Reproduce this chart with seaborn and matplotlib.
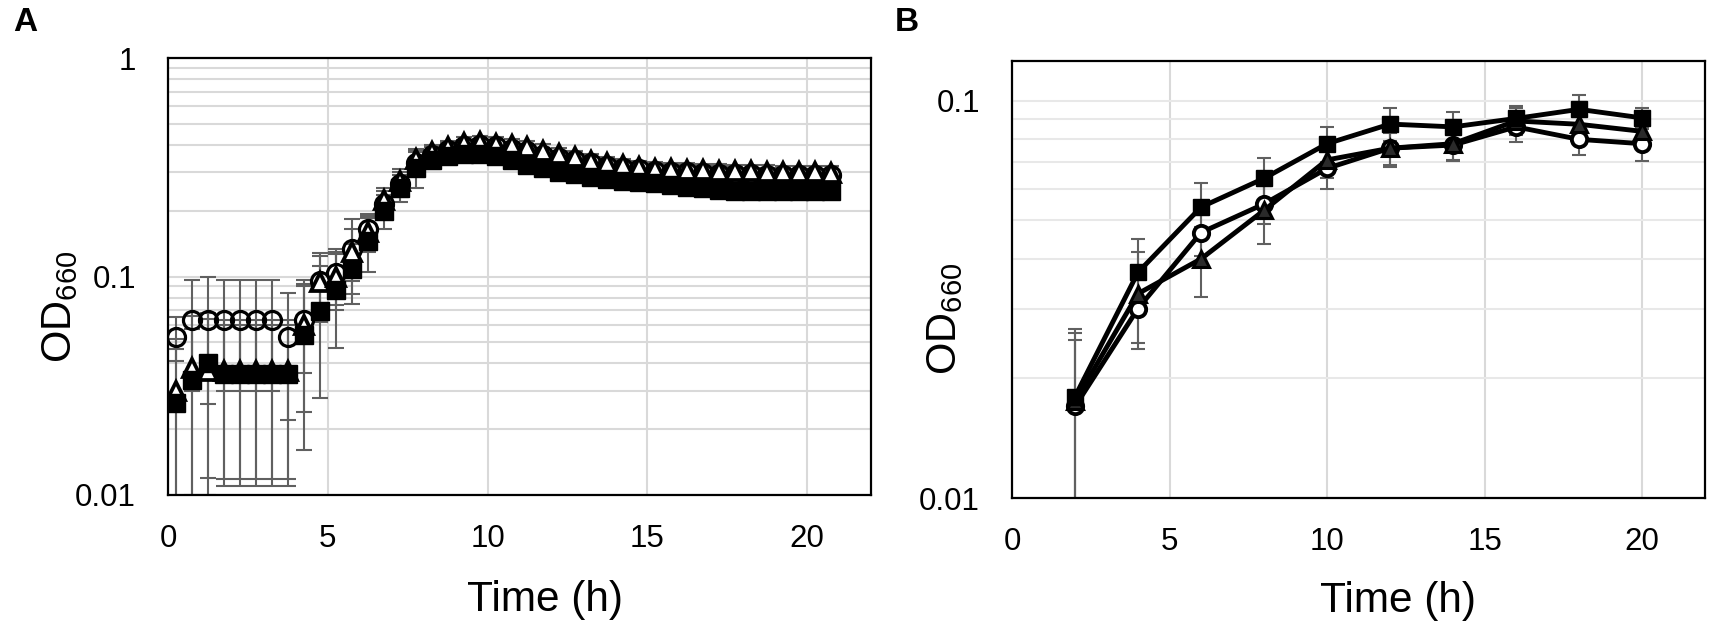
import matplotlib
matplotlib.use("Agg")
import matplotlib.pyplot as plt
import matplotlib.ticker as mticker
import seaborn as sns

# Panel A: time course, every 30 min
time_a = [0.25, 0.75, 1.25, 1.75, 2.25, 2.75, 3.25, 3.75, 4.25, 4.75, 5.25, 5.75,
          6.25, 6.75, 7.25, 7.75, 8.25, 8.75, 9.25, 9.75, 10.25, 10.75, 11.25, 11.75,
          12.25, 12.75, 13.25, 13.75, 14.25, 14.75, 15.25, 15.75, 16.25, 16.75, 17.25,
          17.75, 18.25, 18.75, 19.25, 19.75, 20.25, 20.75]
circ_a = [0.053, 0.063, 0.063, 0.063, 0.063, 0.063, 0.063, 0.053, 0.063,
          0.095, 0.104, 0.133, 0.165, 0.215, 0.265, 0.33, 0.36, 0.38, 0.395, 0.40,
          0.395, 0.385, 0.375, 0.36, 0.35, 0.34, 0.33, 0.322, 0.315, 0.31,
          0.305, 0.302, 0.30, 0.298, 0.296, 0.295, 0.293, 0.292, 0.291, 0.29,
          0.29, 0.29]
circ_sd_a = [0.012, 0.033, 0.037, 0.033, 0.033, 0.033, 0.033, 0.031, 0.027,
             0.033, 0.030, 0.050, 0.028, 0.030, 0.035, 0.040, 0.030, 0.028, 0.027,
             0.027, 0.027, 0.027, 0.026, 0.025, 0.025, 0.025, 0.024, 0.024, 0.024,
             0.023, 0.023, 0.023, 0.023, 0.023, 0.023, 0.022, 0.022, 0.022, 0.022,
             0.022, 0.022, 0.022]
tri_a = [0.030, 0.038, 0.037, 0.037, 0.037, 0.037, 0.037, 0.037, 0.060,
         0.094, 0.100, 0.130, 0.160, 0.225, 0.275, 0.345, 0.370, 0.390, 0.408,
         0.411, 0.406, 0.400, 0.393, 0.377, 0.364, 0.351, 0.339, 0.331, 0.324,
         0.316, 0.312, 0.310, 0.308, 0.306, 0.305, 0.304, 0.303, 0.302, 0.301,
         0.300, 0.300, 0.299]
tri_sd_a = [0.022, 0.028, 0.027, 0.026, 0.026, 0.026, 0.026, 0.026, 0.036,
            0.030, 0.030, 0.035, 0.030, 0.030, 0.035, 0.040, 0.030, 0.028, 0.027,
            0.027, 0.027, 0.026, 0.025, 0.025, 0.024, 0.024, 0.023, 0.023, 0.022,
            0.022, 0.022, 0.022, 0.022, 0.022, 0.021, 0.021, 0.021, 0.021, 0.021,
            0.021, 0.021, 0.021]
sq_a = [0.0265, 0.0335, 0.040, 0.0358, 0.0358, 0.0358, 0.0358, 0.0358, 0.054,
        0.0697, 0.087, 0.108, 0.145, 0.200, 0.255, 0.315, 0.340, 0.355, 0.365,
        0.365, 0.355, 0.340, 0.325, 0.313, 0.300, 0.293, 0.286, 0.280, 0.273,
        0.270, 0.267, 0.262, 0.257, 0.253, 0.249, 0.247, 0.245, 0.245, 0.245,
        0.245, 0.245, 0.245]
sq_sd_a = [0.020, 0.024, 0.028, 0.024, 0.024, 0.024, 0.024, 0.024, 0.038,
           0.042, 0.040, 0.033, 0.040, 0.035, 0.035, 0.060, 0.030, 0.025, 0.022,
           0.022, 0.022, 0.022, 0.022, 0.022, 0.022, 0.021, 0.021, 0.020, 0.020,
           0.020, 0.020, 0.019, 0.019, 0.019, 0.019, 0.018, 0.018, 0.018, 0.018,
           0.018, 0.018, 0.018]

# Panel B: sampled every 2 h
time_b = [2, 4, 6, 8, 10, 12, 14, 16, 18, 20]
sq_b = [0.0180, 0.037, 0.054, 0.0638, 0.078, 0.0874, 0.086, 0.0903, 0.0952, 0.0906]
sq_sd_b = [0.0086, 0.008, 0.008, 0.008, 0.008, 0.0083, 0.008, 0.007, 0.008, 0.0056]
circ_b = [0.0170, 0.030, 0.0466, 0.055, 0.0676, 0.076, 0.0774, 0.086, 0.080, 0.078]
circ_sd_b = [0.008, 0.0055, 0.006, 0.006, 0.0076, 0.0077, 0.007, 0.007, 0.007, 0.0074]
tri_b = [0.0175, 0.0327, 0.040, 0.053, 0.071, 0.076, 0.078, 0.089, 0.0873, 0.0838]
tri_sd_b = [0.0085, 0.009, 0.008, 0.0095, 0.007, 0.007, 0.007, 0.007, 0.007, 0.007]

sns.set_theme(style="white")
plt.rcParams['font.family'] = ['Liberation Sans', 'DejaVu Sans']
plt.rcParams['mathtext.fontset'] = 'custom'
plt.rcParams['mathtext.rm'] = 'Liberation Sans'
plt.rcParams['text.color'] = 'black'
plt.rcParams['axes.labelcolor'] = 'black'
plt.rcParams['xtick.color'] = 'black'
plt.rcParams['ytick.color'] = 'black'

ERR = '#606060'

fig = plt.figure(figsize=(17.17, 6.25), dpi=100)
axA = fig.add_axes([168 / 1717, (625 - 495) / 625, 703 / 1717, 437 / 625])
axB = fig.add_axes([1012 / 1717, (625 - 498) / 625, 693 / 1717, 437 / 625])


def style_axes(ax, ylim, yticks, hgrid):
    ax.set_yscale('log')
    ax.set_xlim(0, 22)
    ax.set_ylim(*ylim)
    ax.xaxis.set_major_locator(mticker.FixedLocator([0, 5, 10, 15, 20]))
    ax.xaxis.set_major_formatter(mticker.FixedFormatter(['0', '5', '10', '15', '20']))
    ax.yaxis.set_major_locator(mticker.FixedLocator(yticks))
    ax.yaxis.set_major_formatter(mticker.FixedFormatter([f'{t:g}' for t in yticks]))
    ax.yaxis.set_minor_locator(mticker.LogLocator(base=10, subs=range(2, 10)))
    ax.yaxis.set_minor_formatter(mticker.NullFormatter())
    ax.grid(True, which='major', axis='x', color='#d9d9d9', lw=1.5)
    ax.grid(True, which='both', axis='y', color=hgrid, lw=1.5)
    ax.set_axisbelow(True)
    ax.tick_params(axis='both', which='both', length=0, labelsize=22.5,
                   labelcolor='black')
    ax.tick_params(axis='x', pad=21)
    ax.tick_params(axis='y', pad=23)
    for sp in ax.spines.values():
        sp.set_color('black')
        sp.set_linewidth(1.6)
        sp.set_zorder(6)
    ax.set_xlabel('Time (h)', fontsize=30.5, va='center', color='black')
    ax.set_ylabel(r'$\mathrm{OD}_{660}$', fontsize=30, va='center', color='black')


# ---- panel A ----
for y, sd in [(circ_a, circ_sd_a), (tri_a, tri_sd_a), (sq_a, sq_sd_a)]:
    axA.errorbar(time_a, y, yerr=sd, fmt='none', ecolor=ERR, elinewidth=1.5,
                 capsize=5.5, capthick=1.5, zorder=2)
sns.lineplot(x=time_a, y=circ_a, ax=axA, linestyle='', marker='o', markersize=13,
             markerfacecolor='none', markeredgecolor='black', markeredgewidth=2.3,
             color='black', zorder=3)
sns.lineplot(x=time_a, y=tri_a, ax=axA, linestyle='', marker='^', markersize=13,
             markerfacecolor='white', markeredgecolor='black', markeredgewidth=2.7,
             color='black', zorder=4)
sns.lineplot(x=time_a, y=sq_a, ax=axA, linestyle='', marker='s', markersize=12.5,
             markerfacecolor='black', markeredgecolor='black', markeredgewidth=1,
             color='black', zorder=5)
style_axes(axA, (0.01, 1), [0.01, 0.1, 1], '#d9d9d9')
axA.xaxis.set_label_coords(0.536, -0.24)
axA.yaxis.set_label_coords(-0.154, 0.43)

# ---- panel B ----
for y, sd in [(circ_b, circ_sd_b), (tri_b, tri_sd_b), (sq_b, sq_sd_b)]:
    axB.errorbar(time_b, y, yerr=sd, fmt='none', ecolor=ERR, elinewidth=1.5,
                 capsize=5, capthick=1.5, zorder=2)
sns.lineplot(x=time_b, y=circ_b, ax=axB, color='black', linewidth=3.5, marker='o',
             markersize=11, markerfacecolor='white', markeredgecolor='black',
             markeredgewidth=2.8, zorder=3)
sns.lineplot(x=time_b, y=tri_b, ax=axB, color='black', linewidth=3.5, marker='^',
             markersize=11, markerfacecolor='#2a2a2a', markeredgecolor='black',
             markeredgewidth=2.2, zorder=4)
sns.lineplot(x=time_b, y=sq_b, ax=axB, color='black', linewidth=3.5, marker='s',
             markersize=11, markerfacecolor='black', markeredgecolor='black',
             markeredgewidth=1, zorder=5)
style_axes(axB, (0.01, 0.126), [0.01, 0.1], '#e8e8e8')
axB.xaxis.set_label_coords(0.557, -0.235)
axB.yaxis.set_label_coords(-0.097, 0.41)

fig.text(13 / 1717, 1 - 7 / 625, 'A', fontsize=24, fontweight='bold', ha='left', va='top')
fig.text(895 / 1717, 1 - 7 / 625, 'B', fontsize=24, fontweight='bold', ha='left', va='top')

fig.savefig('out.png', dpi=100)
